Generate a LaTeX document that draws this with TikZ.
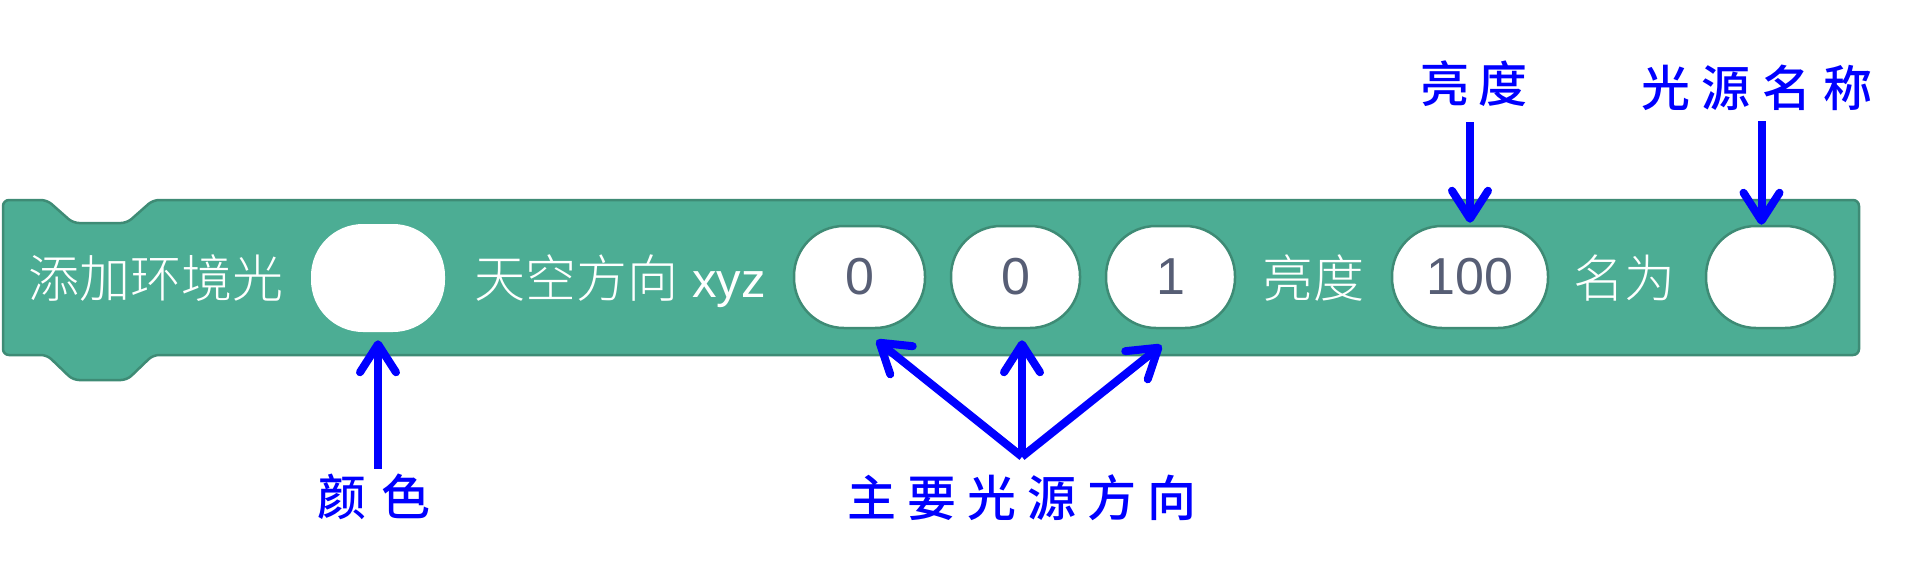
\documentclass[tikz,border=0pt]{standalone}
\usepackage{fontspec}
\usetikzlibrary{arrows.meta,calc}
\setmainfont{Liberation Sans}
\newfontfamily\cjkmed{Noto Sans CJK SC}[UprightFont={* Medium}]
\newfontfamily\cjkthin{Noto Sans CJK SC}[UprightFont={* Light}]
\definecolor{blockfill}{HTML}{4CAD94}
\definecolor{blockline}{HTML}{3E8B75}
\definecolor{numgray}{HTML}{575E75}
\definecolor{myblue}{RGB}{0,0,255}
\begin{document}
\begin{tikzpicture}[x=1pt,y=-1pt,
  blk/.style={fill=blockfill, draw=blockline, line width=2.5pt, rounded corners=6pt, line join=round},
  pill/.style={draw=blockline, line width=2.5pt, fill=white, rounded corners=50pt, inner sep=0pt,
    minimum height=102pt, font=\fontsize{52}{60}\selectfont, text=numgray},
  intext/.style={inner sep=0pt, anchor=base, text=white, font=\fontsize{51}{60}\selectfont\cjkthin},
  lbl/.style={inner sep=0pt, text=myblue, font=\cjkmed\fontsize{49}{56}\selectfont},
  arr/.style={draw=myblue, line width=8pt, -{Straight Barb[length=28pt,width=36pt,round]}},
]
\useasboundingbox (0,0) rectangle (1927,579);
% block
\draw[blk] (3,200) -- (47,200) -- (73,223) -- (127,223) -- (153,200) -- (1859,200)
  -- (1859,355) -- (153,355) -- (127,380) -- (73,380) -- (47,355) -- (3,355) -- cycle;
% pills
\node[pill, draw=none, minimum width=134pt, minimum height=108pt, rounded corners=52pt] (pc) at (378,278) {};
\node[pill, minimum width=131pt] (px) at (859.5,277) {0};
\node[pill, minimum width=129pt] (py) at (1015.5,277) {0};
\node[pill, minimum width=129pt] (pz) at (1170.5,277) {1};
\node[pill, minimum width=156pt] (pb) at (1470,277) {100};
\node[pill, minimum width=129pt] (pn) at (1770.5,277) {};
% inner texts
\node[intext] (t1) at (156,297) {添加环境光};
\node[intext] (t2) at (620,297) {天空方向\hspace{14pt}{\rmfamily\fontsize{49}{60}\selectfont xyz}};
\node[intext] (t3) at (1313.5,297) {亮度};
\node[intext] (t4) at (1624,297) {名为};
% labels
\node[lbl] (lcolor) at (374,497) {颜\hspace{16pt}色};
\node[lbl] (ldir) at (1022,498) {主\hspace{11pt}要\hspace{11pt}光\hspace{11pt}源\hspace{11pt}方\hspace{11pt}向};
\node[lbl] (lbright) at (1474,84) {亮\hspace{9pt}度};
\node[lbl] (lname) at (1757,88) {光\hspace{12pt}源\hspace{12pt}名\hspace{12pt}称};
% arrows
\draw[arr] ([yshift=5pt]pc.south |- lcolor.north) -- ([yshift=-7pt]pc.south);
\draw[arr] ([yshift=-15pt]pb.north |- lbright.south) -- ([yshift=2pt]pb.north);
\draw[arr] ([xshift=-9pt,yshift=-10pt]pn.north |- lname.south) -- ([xshift=-9pt]pn.north);
\coordinate (o) at ([yshift=18pt]ldir.north);
\draw[arr] (o) -- ([xshift=17pt,yshift=-11pt]px.south);
\draw[arr] (o) -- ([xshift=6.5pt,yshift=-11pt]py.south);
\draw[arr] (o) -- ([xshift=-9pt,yshift=-16pt]pz.south);
\end{tikzpicture}
\end{document}
